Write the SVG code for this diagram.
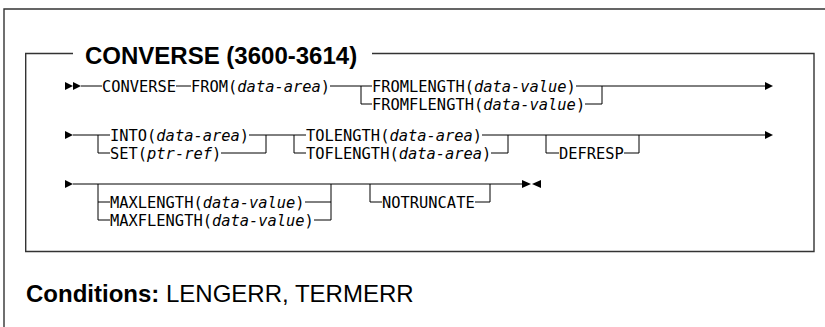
<svg xmlns="http://www.w3.org/2000/svg" width="825" height="327" viewBox="0 0 825 327">
<style>
.t{font-family:"DejaVu Sans Mono","Liberation Mono",monospace;font-size:15.4px;fill:#000}
.i{font-style:italic}
.c{fill:none;stroke:#000;stroke-width:1}
.f{fill:none;stroke:#333;stroke-width:1.4}
.a{fill:#000}
.h{font-family:"Liberation Sans",Arial,sans-serif;font-size:24px;fill:#000}
</style>
<rect width="825" height="327" fill="#fff"/>
<g id="frame">
<path class="f" d="M4,327 V9 H826"/>
<path class="f" d="M73,53.5 H25.7 V251.5 H814 V53.5 H372"/>
<text class="h" x="85" y="63.5" font-weight="bold">CONVERSE (3600-3614)</text>
</g>
<g id="connectors">
<polygon class="a" points="65,82 73,86 65,90"/>
<polygon class="a" points="73,82 81,86 73,90"/>
<path class="c" d="M81,86 H102 M176,86 H191 M330,86 H372 M361,86 V104 H372 M576,86 H765 M585,104 H602 V86"/>
<polygon class="a" points="765,82 773,86 765,90"/>
<polygon class="a" points="65,131 73,135 65,139"/>
<path class="c" d="M73,135 H110 M98,135 V153 H110 M249,135 H306 M221,153 H266 V135 M294,135 V153 H306 M482,135 H765 M491,153 H508 V135 M546,135 V153 H559 M624,153 H639 V135"/>
<polygon class="a" points="765,131 773,135 765,139"/>
<polygon class="a" points="65,180 73,184 65,188"/>
<path class="c" d="M73,184 H522 M98,184 V220 H110 M98,202 H110 M305,202 H331 M314,220 H331 M331,184 V220 M370,184 V202 H382 M475,202 H490 V184"/>
<polygon class="a" points="522,180 531,184 522,188"/>
<polygon class="a" points="541,180 532,184 541,188"/>
</g>
<g id="converse"><text class="t" x="102" y="91.6">CONVERSE</text></g>
<g id="from"><text class="t" x="191" y="91.6">FROM(<tspan class="i">data-area</tspan>)</text></g>
<g id="fromlength"><text class="t" x="372" y="91.6">FROMLENGTH(<tspan class="i">data-value</tspan>)</text></g>
<g id="fromflength"><text class="t" x="372" y="109.6">FROMFLENGTH(<tspan class="i">data-value</tspan>)</text></g>
<g id="into"><text class="t" x="110" y="140.6">INTO(<tspan class="i">data-area</tspan>)</text></g>
<g id="set"><text class="t" x="110" y="158.6">SET(<tspan class="i">ptr-ref</tspan>)</text></g>
<g id="tolength"><text class="t" x="306" y="140.6">TOLENGTH(<tspan class="i">data-area</tspan>)</text></g>
<g id="toflength"><text class="t" x="306" y="158.6">TOFLENGTH(<tspan class="i">data-area</tspan>)</text></g>
<g id="defresp"><text class="t" x="559" y="158.6">DEFRESP</text></g>
<g id="maxlength"><text class="t" x="110" y="207.6">MAXLENGTH(<tspan class="i">data-value</tspan>)</text></g>
<g id="maxflength"><text class="t" x="110" y="225.6">MAXFLENGTH(<tspan class="i">data-value</tspan>)</text></g>
<g id="notruncate"><text class="t" x="382" y="207.6">NOTRUNCATE</text></g>
<g id="conditions"><text class="h" x="26" y="302"><tspan font-weight="bold">Conditions:</tspan> LENGERR, TERMERR</text></g>
</svg>
